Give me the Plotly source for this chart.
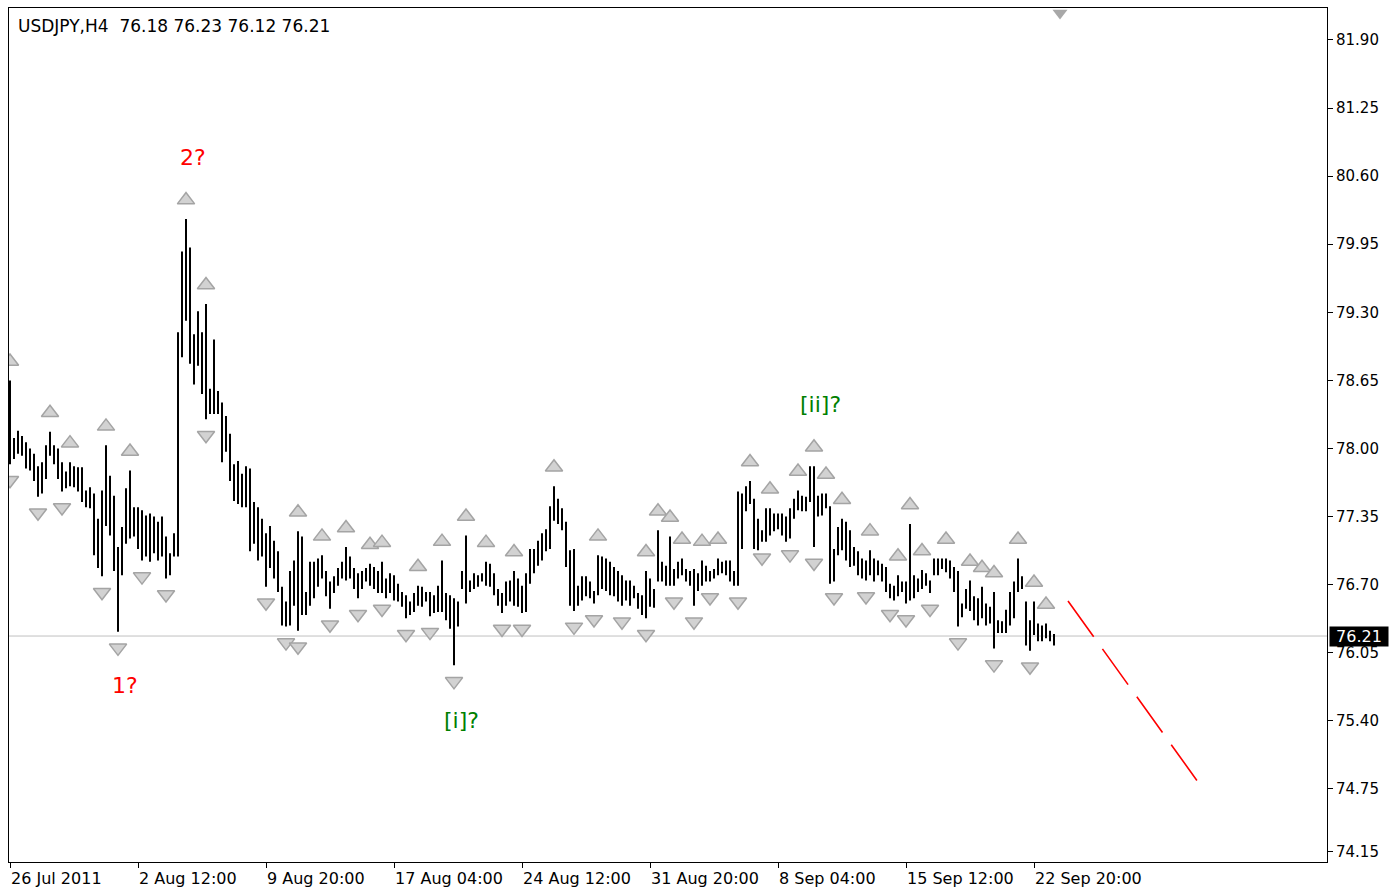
import plotly.graph_objects as go

# ---------------- data ----------------
title_text = "USDJPY,H4\u00a0 76.18 76.23 76.12 76.21"
last_price = 76.21

high = [
    78.65, 78.10, 78.17, 78.12, 78.06, 78.00, 77.95, 77.83, 77.87, 78.03,
    78.16, 78.03, 78.00, 77.87, 77.78, 77.87, 77.83, 77.82, 77.82, 77.60,
    77.63, 77.57, 77.33, 77.60, 78.03, 77.74, 77.55, 77.06, 77.25, 77.62,
    77.79, 77.44, 77.44, 77.41, 77.36, 77.38, 77.35, 77.30, 77.35, 77.16,
    77.00, 77.19, 79.11, 79.88, 80.19, 79.92, 79.09, 79.31, 79.11, 79.38,
    78.57, 79.04, 78.55, 78.44, 78.31, 78.14, 77.85, 77.88, 77.76, 77.83,
    77.81, 77.49, 77.44, 77.33, 77.19, 77.26, 77.12, 77.02, 76.68, 76.54,
    76.83, 76.93, 77.21, 77.16, 76.63, 76.92, 76.92, 76.95, 76.98, 76.83,
    76.73, 76.78, 76.86, 76.92, 77.06, 76.97, 76.86, 76.81, 76.83, 76.86,
    76.90, 76.87, 76.83, 76.92, 76.76, 76.81, 76.79, 76.71, 76.63, 76.60,
    76.54, 76.62, 76.69, 76.68, 76.63, 76.63, 76.60, 76.69, 76.93, 76.62,
    76.60, 76.57, 76.54, 76.83, 77.17, 76.74, 76.81, 76.79, 76.81, 76.92,
    76.90, 76.81, 76.66, 76.62, 76.73, 76.74, 76.83, 76.76, 76.69, 76.81,
    77.04, 77.04, 77.12, 77.19, 77.23, 77.45, 77.64, 77.52, 77.43, 77.30,
    77.03, 77.04, 76.69, 76.78, 76.78, 76.73, 76.64, 76.98, 76.97, 76.95,
    76.92, 76.87, 76.83, 76.79, 76.74, 76.74, 76.69, 76.62, 76.60, 76.83,
    76.76, 76.66, 77.22, 76.92, 76.88, 77.16, 76.85, 76.92, 76.95, 76.85,
    76.83, 76.85, 76.81, 76.93, 76.88, 76.83, 76.85, 76.95, 76.92, 76.93,
    76.93, 76.83, 77.59, 77.57, 77.64, 77.69, 77.52, 77.33, 77.22, 77.43,
    77.43, 77.38, 77.38, 77.38, 77.35, 77.43, 77.52, 77.60, 77.55, 77.54,
    77.83, 77.83, 77.55, 77.57, 77.57, 77.45, 77.04, 77.25, 77.33, 77.30,
    77.22, 77.06, 77.02, 76.95, 76.93, 77.03, 76.95, 76.93, 76.90, 76.87,
    76.71, 76.69, 76.79, 76.73, 76.73, 77.28, 76.79, 76.76, 76.84, 76.81,
    76.74, 76.95, 76.95, 76.95, 76.95, 76.93, 76.87, 76.83, 76.52, 76.66,
    76.74, 76.59, 76.57, 76.68, 76.52, 76.49, 76.63, 76.36, 76.35, 76.46,
    76.63, 76.73, 76.95, 76.78, 76.54, 76.36, 76.54, 76.33, 76.31, 76.33,
    76.26, 76.23,
]

low = [
    77.85, 77.90, 77.95, 77.93, 77.81, 77.79, 77.69, 77.54, 77.57, 77.71,
    77.93, 77.85, 77.71, 77.59, 77.62, 77.64, 77.63, 77.59, 77.49, 77.44,
    77.43, 76.98, 76.86, 76.78, 77.26, 77.17, 76.83, 76.25, 76.79, 77.09,
    77.14, 77.16, 77.04, 76.93, 76.97, 76.92, 77.00, 76.93, 76.97, 76.76,
    76.79, 76.97, 76.97, 78.87, 79.22, 78.81, 78.61, 78.79, 78.52, 78.28,
    78.33, 78.33, 78.33, 77.87, 77.97, 77.69, 77.50, 77.47, 77.44, 77.44,
    77.02, 77.09, 76.93, 76.97, 76.68, 76.86, 76.76, 76.63, 76.31, 76.30,
    76.31, 76.50, 76.26, 76.41, 76.41, 76.50, 76.57, 76.68, 76.76, 76.59,
    76.47, 76.62, 76.69, 76.76, 76.74, 76.76, 76.66, 76.57, 76.66, 76.73,
    76.69, 76.66, 76.62, 76.62, 76.57, 76.62, 76.55, 76.54, 76.49, 76.38,
    76.41, 76.44, 76.50, 76.49, 76.54, 76.40, 76.43, 76.44, 76.44, 76.36,
    76.28, 75.93, 76.30, 76.66, 76.52, 76.63, 76.66, 76.68, 76.73, 76.69,
    76.68, 76.60, 76.50, 76.43, 76.50, 76.54, 76.50, 76.49, 76.43, 76.44,
    76.71, 76.81, 76.88, 76.93, 77.02, 77.04, 77.31, 77.28, 77.22, 76.87,
    76.50, 76.45, 76.50, 76.55, 76.59, 76.57, 76.52, 76.60, 76.66, 76.64,
    76.60, 76.59, 76.54, 76.50, 76.55, 76.50, 76.57, 76.47, 76.41, 76.38,
    76.49, 76.48, 76.73, 76.73, 76.69, 76.69, 76.69, 76.76, 76.79, 76.73,
    76.69, 76.50, 76.64, 76.69, 76.73, 76.73, 76.76, 76.79, 76.81, 76.79,
    76.73, 76.69, 76.69, 77.04, 77.40, 77.47, 77.04, 77.03, 77.11, 77.11,
    77.17, 77.21, 77.23, 77.17, 77.11, 77.14, 77.33, 77.41, 77.40, 77.40,
    77.49, 77.06, 77.35, 77.36, 77.43, 76.71, 76.73, 76.98, 77.03, 76.93,
    76.87, 76.88, 76.79, 76.76, 76.74, 76.79, 76.73, 76.79, 76.73, 76.63,
    76.57, 76.55, 76.59, 76.63, 76.52, 76.55, 76.57, 76.63, 76.66, 76.69,
    76.62, 76.79, 76.79, 76.85, 76.82, 76.76, 76.63, 76.30, 76.39, 76.47,
    76.45, 76.36, 76.31, 76.38, 76.31, 76.33, 76.09, 76.24, 76.24, 76.24,
    76.31, 76.38, 76.63, 76.66, 76.12, 76.07, 76.22, 76.16, 76.16, 76.19,
    76.16, 76.12,
]

up_fractal_bars = [0, 10, 15, 24, 30, 44, 49, 72, 78, 84, 90, 93, 102, 108,
                   114, 119, 126, 136, 147, 159, 162, 165, 168, 173, 177, 185,
                   190, 197, 201, 204, 208, 215, 222, 225, 228, 234, 240, 243,
                   246, 252, 256, 259]
down_fractal_bars = [0, 7, 13, 23, 27, 33, 39, 49, 64, 69, 72, 80, 87, 93, 99,
                     105, 111, 123, 128, 141, 146, 153, 159, 166, 171, 175,
                     182, 188, 195, 201, 206, 214, 220, 224, 230, 237, 246, 255]

x_tick_bars = [0, 32, 64, 96, 128, 160, 192, 224, 256]
x_tick_labels = ["26 Jul 2011", "2 Aug 12:00", "9 Aug 20:00", "17 Aug 04:00",
                 "24 Aug 12:00", "31 Aug 20:00", "8 Sep 04:00", "15 Sep 12:00",
                 "22 Sep 20:00"]
y_tick_values = [81.90, 81.25, 80.60, 79.95, 79.30, 78.65, 78.00, 77.35,
                 76.70, 76.05, 75.40, 74.75, 74.15]

wave_texts = ["2?", "1?", "[i]?", "[ii]?"]
wave_bars = [45.75, 28.75, 112.75, 202.5]
wave_prices = [80.78, 75.74, 75.40, 78.42]
wave_colors = ["#FF0000", "#FF0000", "#008000", "#008000"]

trend_bars = [264.5, 297.0]
trend_prices = [76.545, 74.817]
shift_bar = 262.5

# ---------------- layout constants ----------------
W, H = 1397, 892
ML, MR, MT, MB = 9, 70, 8, 30
y_min, y_max = 74.053, 82.205
x_min, x_max = -0.25, 329.25
plot_h = H - MT - MB
ppu = plot_h / (y_max - y_min)   # pixels per price unit

FONT = "DejaVu Sans"
n = len(high)
idx = list(range(n))

fig = go.Figure()

# bars (high-low range)
fig.add_trace(go.Bar(
    x=idx, y=[h - l for h, l in zip(high, low)], base=low,
    width=0.5, marker=dict(color="#000000", line=dict(width=0)),
    hoverinfo="skip", showlegend=False,
))

# fractal arrows
arrow_style = dict(size=15, color="#D2D2D2",
                   line=dict(color="#A4A4A4", width=1.5))
fig.add_trace(go.Scatter(
    x=up_fractal_bars, y=[high[i] + 19 / ppu for i in up_fractal_bars],
    mode="markers", marker=dict(symbol="triangle-up", **arrow_style),
    hoverinfo="skip", showlegend=False,
))
fig.add_trace(go.Scatter(
    x=down_fractal_bars, y=[low[i] - 16 / ppu for i in down_fractal_bars],
    mode="markers", marker=dict(symbol="triangle-down", **arrow_style),
    hoverinfo="skip", showlegend=False,
))

# red dashed projection line
fig.add_trace(go.Scatter(
    x=trend_bars, y=trend_prices, mode="lines",
    line=dict(color="#FF0000", width=1.6, dash="44px,15px"),
    hoverinfo="skip", showlegend=False,
))

# chart-shift marker at top
fig.add_trace(go.Scatter(
    x=[shift_bar], y=[y_max - 5 / ppu], mode="markers",
    marker=dict(symbol="triangle-down", size=13, color="#A8A8A8"),
    cliponaxis=False, hoverinfo="skip", showlegend=False,
))

# last price horizontal line
fig.add_shape(type="line", xref="paper", x0=0, x1=1, yref="y",
              y0=last_price, y1=last_price,
              line=dict(color="#C0C0C0", width=1), layer="below")

# wave labels
for t, xb, yp, c in zip(wave_texts, wave_bars, wave_prices, wave_colors):
    fig.add_annotation(x=xb, y=yp, text=t, showarrow=False,
                       font=dict(family=FONT, size=22, color=c))

# title text
fig.add_annotation(xref="paper", yref="paper", x=0, y=1, xanchor="left",
                   yanchor="top", xshift=7, yshift=-6, text=title_text,
                   showarrow=False,
                   font=dict(family=FONT, size=17, color="#000000"))

# last price box
fig.add_annotation(xref="paper", yref="y", x=1, y=last_price, xanchor="left",
                   xshift=2, text=str(last_price), showarrow=False,
                   bgcolor="#000000", borderpad=1, width=56, height=17,
                   font=dict(family=FONT, size=16, color="#FFFFFF"))

fig.update_layout(
    width=W, height=H,
    margin=dict(l=ML, r=MR, t=MT, b=MB, autoexpand=False),
    paper_bgcolor="#FFFFFF", plot_bgcolor="#FFFFFF",
    barmode="overlay",
    showlegend=False,
    xaxis=dict(
        range=[x_min, x_max], tickmode="array", tickvals=x_tick_bars,
        ticktext=x_tick_labels, ticks="outside", ticklen=5,
        tickcolor="#000000", showline=True, linecolor="#000000",
        linewidth=1, mirror=True, showgrid=False, zeroline=False,
        ticklabelposition="outside right", automargin=False,
        ticklabelstandoff=2,
        tickfont=dict(family=FONT, size=16, color="#000000"),
    ),
    yaxis=dict(
        range=[y_min, y_max], side="right", tickmode="array",
        tickvals=y_tick_values, ticktext=[f"{v:.2f}" for v in y_tick_values],
        ticks="outside", ticklen=5, tickcolor="#000000",
        showline=True, linecolor="#000000", linewidth=1, mirror=True,
        showgrid=False, zeroline=False, automargin=False,
        tickfont=dict(family=FONT, size=15, color="#000000"),
    ),
)

# remove the browser's default 8px page margin so the figure sits at (0, 0)
fig.write_html("out.html",
               config={"displayModeBar": False},
               post_script="document.body.style.margin='0';")
